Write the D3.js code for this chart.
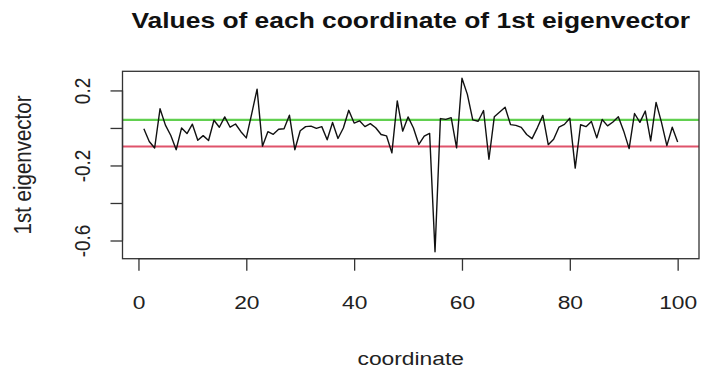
<!DOCTYPE html>
<html>
<head>
    <meta charset="utf-8">
    <style>
        body {
            margin: 0;
            background: #fff;
            font-family: "Liberation Sans", Arial, sans-serif;
        }
        .axis text {
            font-family: "Liberation Sans", Arial, sans-serif;
            font-size: 19px;
            fill: #222;
        }
        .axis path, .axis line {
            stroke: #333;
            stroke-width: 1.3px;
        }
    </style>
    <script src="https://d3js.org/d3.v7.min.js"></script>
</head>
<body>
    <script>
        // coordinates 1..100 of the 1st eigenvector
        const coordinate = d3.range(1, 101);
        const eigenvector = [
            -0.004, -0.072, -0.107, 0.102, 0.015, -0.040, -0.116, 0.000, -0.030, 0.020,
            -0.066, -0.041, -0.067, 0.041, 0.004, 0.059, 0.004, 0.021, -0.020, -0.053,
            0.075, 0.207, -0.097, -0.020, -0.034, -0.007, -0.004, 0.068, -0.116, -0.015,
            0.007, 0.010, -0.002, 0.007, -0.063, 0.029, -0.056, 0.000, 0.094, 0.026,
            0.038, 0.007, 0.023, 0.001, -0.035, -0.042, -0.133, 0.144, -0.017, 0.059,
            0.000, -0.088, -0.044, -0.029, -0.660, 0.050, 0.046, 0.055, -0.106, 0.265,
            0.179, 0.043, 0.036, 0.093, -0.167, 0.060, 0.085, 0.110, 0.018, 0.014,
            0.003, -0.035, -0.057, 0.002, 0.067, -0.089, -0.060, 0.005, 0.019, 0.052,
            -0.214, 0.017, 0.007, 0.035, -0.053, 0.045, 0.011, 0.032, 0.060, -0.017,
            -0.110, 0.077, 0.030, 0.090, -0.069, 0.136, 0.030, -0.094, 0.004, -0.075
        ];
        const refLines = [0.043, -0.099];
        const refColors = ['#61D04F', '#DF536B'];

        const xTicks = [0, 20, 40, 60, 80, 100];
        const yTicks = [-0.6, -0.4, -0.2, 0, 0.2];
        const yTickLabels = ['-0.6', '', '-0.2', '', '0.2'];

        const width = 723, height = 379;
        const margin = {top: 71.3, right: 24, bottom: 120.3, left: 122.5};
        const stretch = 1.2; // the picture is wider than tall

        const svg = d3.select('body').append('svg')
            .attr('width', width)
            .attr('height', height);

        // R style 4% padding of the data range
        const xExt = d3.extent(coordinate), yExt = d3.extent(eigenvector);
        const xPad = (xExt[1] - xExt[0]) * 0.04, yPad = (yExt[1] - yExt[0]) * 0.04;

        const x = d3.scaleLinear()
            .domain([xExt[0] - xPad, xExt[1] + xPad])
            .range([margin.left, width - margin.right]);

        const y = d3.scaleLinear()
            .domain([yExt[0] - yPad, yExt[1] + yPad])
            .range([height - margin.bottom, margin.top]);

        // reference lines
        refLines.forEach((v, i) => {
            svg.append('line')
                .attr('x1', x.range()[0]).attr('x2', x.range()[1])
                .attr('y1', y(v)).attr('y2', y(v))
                .attr('stroke', refColors[i])
                .attr('stroke-width', 2.2);
        });

        const line = d3.line()
            .x((d, i) => x(coordinate[i]))
            .y(d => y(d));

        svg.append('path')
            .datum(eigenvector)
            .attr('d', line)
            .attr('fill', 'none')
            .attr('stroke', '#111')
            .attr('stroke-width', 1.4)
            .attr('stroke-linejoin', 'round');

        // box
        svg.append('rect')
            .attr('x', x.range()[0])
            .attr('y', y.range()[1])
            .attr('width', x.range()[1] - x.range()[0])
            .attr('height', y.range()[0] - y.range()[1])
            .attr('fill', 'none')
            .attr('stroke', '#333')
            .attr('stroke-width', 1.3);

        // x axis
        const xAxis = svg.append('g')
            .attr('class', 'axis')
            .attr('transform', `translate(0,${y.range()[0]})`)
            .call(d3.axisBottom(x).tickValues(xTicks).tickSize(12).tickSizeOuter(0));
        xAxis.select('.domain').attr('d', `M${x(xTicks[0])},0H${x(xTicks[xTicks.length - 1])}`);
        xAxis.selectAll('.tick text')
            .attr('y', null).attr('dy', null)
            .attr('transform', `translate(0,50) scale(${stretch},1)`);

        // y axis, labels parallel to axis
        const yAxis = svg.append('g')
            .attr('class', 'axis')
            .attr('transform', `translate(${x.range()[0]},0)`)
            .call(d3.axisLeft(y).tickValues(yTicks).tickSize(12).tickSizeOuter(0)
                .tickFormat((d, i) => yTickLabels[i]));
        yAxis.select('.domain').attr('d', `M0,${y(yTicks[0])}V${y(yTicks[yTicks.length - 1])}`);
        yAxis.selectAll('.tick text')
            .attr('x', null).attr('dy', null)
            .attr('text-anchor', 'middle')
            .attr('transform', `translate(-33,0) rotate(-90) scale(1,${stretch})`);

        // titles
        const cx = (x.range()[0] + x.range()[1]) / 2;
        svg.append('text')
            .attr('transform', `translate(${cx},28) scale(${stretch},1)`)
            .attr('text-anchor', 'middle')
            .style('font-size', '22px')
            .style('font-weight', 'bold')
            .style('fill', '#111')
            .text('Values of each coordinate of 1st eigenvector');

        svg.append('text')
            .attr('transform', `translate(${cx},365) scale(${stretch},1)`)
            .attr('text-anchor', 'middle')
            .style('font-size', '19px')
            .style('fill', '#222')
            .text('coordinate');

        svg.append('text')
            .attr('transform', `translate(31,${(y.range()[0] + y.range()[1]) / 2}) rotate(-90) scale(1,${stretch})`)
            .attr('text-anchor', 'middle')
            .style('font-size', '20.5px')
            .style('fill', '#222')
            .text('1st eigenvector');
    </script>
</body>
</html>
